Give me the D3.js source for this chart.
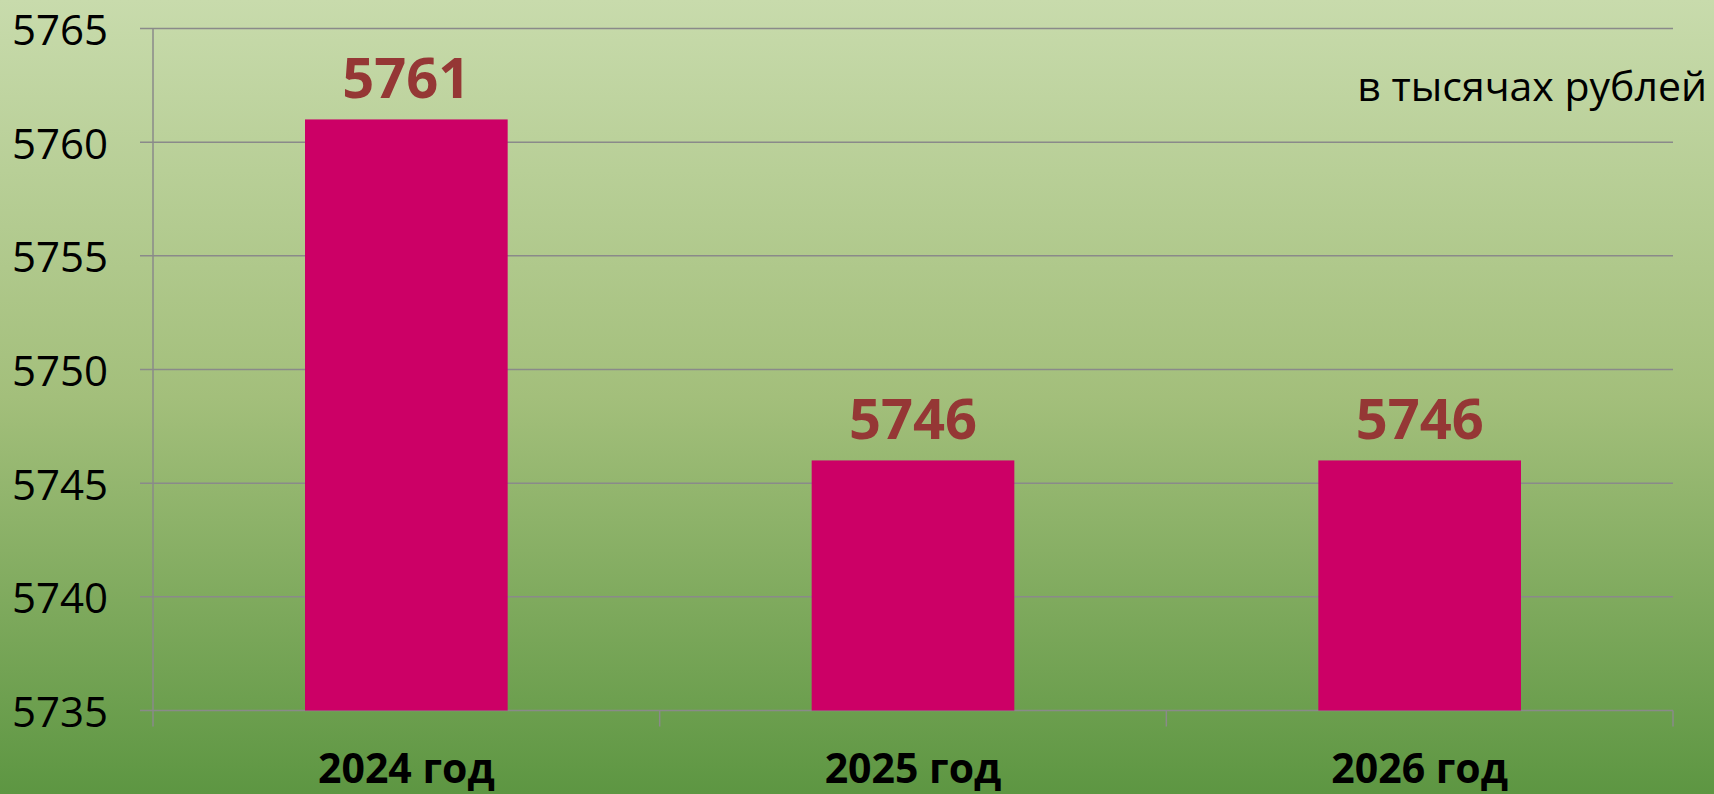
<!DOCTYPE html>
<html>
<head>
<meta charset="utf-8">
<script src="https://cdn.jsdelivr.net/npm/d3@7"></script>
<style>
  html, body { margin: 0; padding: 0; }
  body { width: 1714px; height: 794px; overflow: hidden; }
  svg { display: block; font-family: "Open Sans", "Noto Sans", sans-serif; }
</style>
</head>
<body>
<svg id="chart" width="1714" height="794"></svg>
<script>
// chart data
const years = ["2024 год", "2025 год", "2026 год"];
const amounts = [5761, 5746, 5746];
const yTicks = [5735, 5740, 5745, 5750, 5755, 5760, 5765];
const unitNote = "в тысячах рублей";

const svg = d3.select("#chart");
const W = 1714, H = 794;

// background gradient
const grad = svg.append("defs").append("linearGradient")
  .attr("id", "bg").attr("x1", 0).attr("y1", 0).attr("x2", 0).attr("y2", 1);
grad.append("stop").attr("offset", "0%").attr("stop-color", "#c8dbac");
grad.append("stop").attr("offset", "50%").attr("stop-color", "#a3bf7b");
grad.append("stop").attr("offset", "100%").attr("stop-color", "#5d9642");
svg.append("rect").attr("width", W).attr("height", H).attr("fill", "url(#bg)");

const plotLeft = 153, plotRight = 1673, plotTop = 28.5, plotBottom = 710.5;

const x = d3.scaleBand().domain(years).range([plotLeft, plotRight]).padding(0);
const y = d3.scaleLinear().domain([5735, 5765]).range([plotBottom, plotTop]);

const gridColor = "#8a8a8a";

// horizontal gridlines + left ticks
svg.append("g").selectAll("line")
  .data(yTicks)
  .join("line")
  .attr("x1", plotLeft - 13).attr("x2", plotRight)
  .attr("y1", d => y(d)).attr("y2", d => y(d))
  .attr("stroke", gridColor).attr("stroke-width", 1.5);

// y axis labels
svg.append("g").selectAll("text")
  .data(yTicks)
  .join("text")
  .attr("x", 108)
  .attr("y", d => y(d))
  .attr("text-anchor", "end")
  .attr("dominant-baseline", "central")
  .attr("font-size", 42)
  .attr("fill", "#000")
  .text(d => d);

// vertical axis line
svg.append("line")
  .attr("x1", plotLeft).attr("x2", plotLeft)
  .attr("y1", plotTop).attr("y2", plotBottom + 16)
  .attr("stroke", gridColor).attr("stroke-width", 1.5);

// category separator ticks on the bottom axis
const seps = years.map(d => x(d) + x.bandwidth());
svg.append("g").selectAll("line")
  .data(seps)
  .join("line")
  .attr("x1", d => d).attr("x2", d => d)
  .attr("y1", plotBottom).attr("y2", plotBottom + 16)
  .attr("stroke", gridColor).attr("stroke-width", 1.5);

// bars
const barW = x.bandwidth() * 0.4;
svg.append("g").selectAll("rect")
  .data(amounts)
  .join("rect")
  .attr("x", (d, i) => x(years[i]) + x.bandwidth() / 2 - barW / 2)
  .attr("y", d => y(d))
  .attr("width", barW)
  .attr("height", d => plotBottom - y(d))
  .attr("fill", "#cc0066");

// value labels
svg.append("g").selectAll("text")
  .data(amounts)
  .join("text")
  .attr("x", (d, i) => x(years[i]) + x.bandwidth() / 2)
  .attr("y", d => y(d) - 21)
  .attr("text-anchor", "middle")
  .attr("font-size", 56)
  .attr("font-weight", "bold")
  .attr("fill", "#953735")
  .text(d => d);

// category labels
svg.append("g").selectAll("text")
  .data(years)
  .join("text")
  .attr("x", d => x(d) + x.bandwidth() / 2)
  .attr("y", 783)
  .attr("text-anchor", "middle")
  .attr("font-size", 41)
  .attr("font-weight", "bold")
  .attr("fill", "#000")
  .text(d => d);

// units note
svg.append("text")
  .attr("x", 1707)
  .attr("y", 101)
  .attr("text-anchor", "end")
  .attr("font-size", 41)
  .attr("fill", "#000")
  .text(unitNote);
</script>
</body>
</html>
